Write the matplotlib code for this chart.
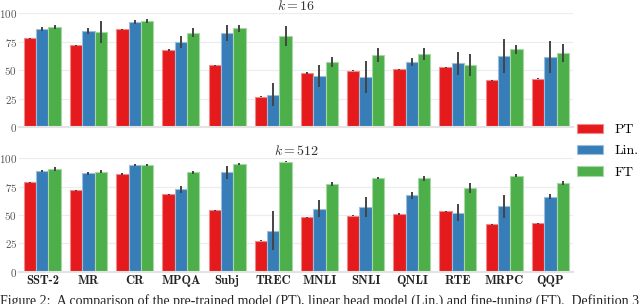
import numpy as np
import matplotlib
matplotlib.use("Agg")
import matplotlib.pyplot as plt
from matplotlib.patches import Patch

tasks = ["SST-2", "MR", "CR", "MPQA", "Subj", "TREC", "MNLI", "SNLI", "QNLI", "RTE", "MRPC", "QQP"]
methods = ["PT", "Lin.", "FT"]

# k = 16
pt_16 = [77.9, 71.8, 85.9, 67.6, 54.1, 26.8, 47.4, 49.4, 50.6, 52.4, 41.2, 42.4]
lin_16 = [86.2, 84.4, 92.4, 74.7, 82.9, 28.5, 44.7, 43.8, 57.0, 55.9, 62.4, 61.2]
ft_16 = [87.9, 83.2, 93.2, 82.6, 86.5, 80.0, 57.0, 63.2, 64.1, 54.4, 68.2, 65.0]
pt_16_err = [0.5, 0.5, 0.5, 0.5, 0.5, 0.5, 0.5, 0.5, 0.5, 0.5, 0.5, 0.5]
lin_16_err = [2.0, 2.5, 1.8, 5.5, 7.0, 10.0, 9.5, 14.0, 3.5, 10.0, 15.0, 14.0]
ft_16_err = [2.0, 9.5, 2.0, 4.0, 3.0, 9.0, 4.7, 6.5, 5.0, 9.5, 3.7, 8.0]

# k = 512
pt_512 = [78.8, 71.8, 86.2, 68.2, 54.4, 27.4, 47.9, 49.4, 50.9, 53.5, 41.8, 42.9]
lin_512 = [89.1, 86.8, 94.4, 72.6, 87.6, 36.2, 55.6, 57.0, 67.6, 52.1, 57.6, 66.2]
ft_512 = [90.6, 88.2, 94.4, 87.6, 95.0, 97.0, 77.4, 82.9, 82.4, 74.1, 84.7, 78.2]
pt_512_err = [0.5, 0.5, 0.5, 0.5, 0.5, 0.5, 0.5, 0.5, 0.5, 0.5, 0.5, 0.5]
lin_512_err = [1.0, 1.5, 1.0, 3.0, 6.0, 17.0, 7.5, 9.0, 3.0, 7.5, 10.0, 2.0]
ft_512_err = [2.0, 1.5, 1.0, 1.5, 1.0, 0.5, 1.5, 1.0, 2.0, 4.5, 1.5, 1.5]

colors = ["#e41a1c", "#377eb8", "#4daf4a"]
edges = ["#ee8a8b", "#9bbedb", "#a6d7a4"]

plt.rcParams["font.family"] = "cmr10"
plt.rcParams["mathtext.fontset"] = "cm"
plt.rcParams["axes.formatter.use_mathtext"] = True

fig = plt.figure(figsize=(6.4, 3.04), dpi=100)
ax_top = fig.add_axes([0.030, 0.582, 0.866, 0.375])
ax_bot = fig.add_axes([0.030, 0.106, 0.866, 0.373])


def draw_panel(ax, vals, errs, title, show_x):
    x = np.arange(len(tasks))
    w = 0.8 / 3
    for i in range(3):
        pos = x - 0.4 + w * (i + 0.5)
        ax.bar(pos, vals[i], width=w, color=colors[i], edgecolor=edges[i], linewidth=0.8, zorder=2)
        ax.errorbar(pos, vals[i], yerr=errs[i], fmt="none", ecolor="#444444", elinewidth=1.4,
                    capsize=0, zorder=3)
    ax.set_xlim(-0.5, len(tasks) - 0.5)
    ax.set_ylim(0, 100)
    ax.set_yticks([0, 25, 50, 75, 100])
    ax.grid(axis="y", color="#ececec", linewidth=0.8, zorder=0)
    ax.set_axisbelow(True)
    for s in ["left", "right", "top"]:
        ax.spines[s].set_visible(False)
    ax.spines["bottom"].set_color("#e3e3e3")
    ax.spines["bottom"].set_linewidth(1.5)
    ax.tick_params(axis="y", length=0, labelsize=8, labelcolor="#555555", pad=1.5)
    ax.tick_params(axis="x", length=0, pad=2)
    ax.set_xticks(x)
    if show_x:
        ax.set_xticklabels(tasks, fontfamily="cmb10", fontsize=9, color="#222222")
    else:
        ax.set_xticklabels([])
    ax.set_title(title, fontsize=10, pad=1, color="#333333")


draw_panel(ax_top, [pt_16, lin_16, ft_16], [pt_16_err, lin_16_err, ft_16_err], r"$k = 16$", False)
draw_panel(ax_bot, [pt_512, lin_512, ft_512], [pt_512_err, lin_512_err, ft_512_err], r"$k = 512$", True)

handles = [Patch(facecolor=colors[i], edgecolor=edges[i], linewidth=0.8) for i in range(3)]
fig.legend(handles, methods, loc="center left", bbox_to_anchor=(0.9016, 0.503), frameon=False,
           fontsize=10, handlelength=1.9, handleheight=0.7, labelspacing=0.6, handletextpad=0.8,
           borderpad=0, borderaxespad=0)

fig.text(0.0, 0.01, "Figure 2:  A comparison of the pre-trained model (PT), linear head model (Lin.) and fine-tuning (FT).  Definition 3.1",
         fontfamily="Liberation Serif", fontsize=10, color="#222222", va="center", ha="left")

fig.savefig("out.png", dpi=100)
